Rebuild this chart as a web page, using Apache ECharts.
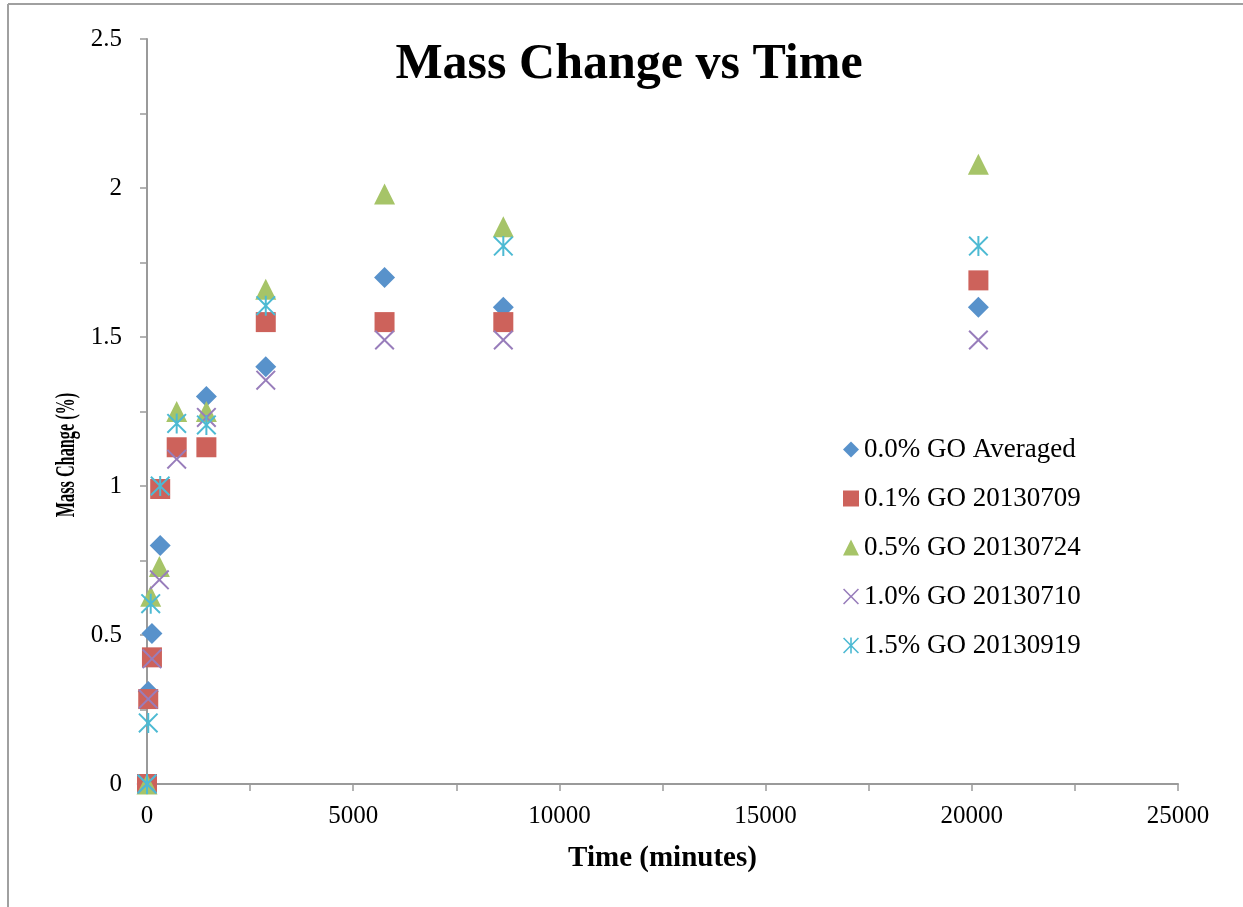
<!DOCTYPE html>
<html>
<head>
<meta charset="utf-8">
<script src="https://cdn.jsdelivr.net/npm/echarts@6/dist/echarts.min.js"></script>
<style>
  html, body { margin: 0; padding: 0; background: #ffffff; }
  #chart { width: 1243px; height: 907px; }
</style>
</head>
<body>
<div id="chart"></div>
<script>
// Series labels
const seriesNames = ['0.0% GO Averaged', '0.1% GO 20130709', '0.5% GO 20130724', '1.0% GO 20130710', '1.5% GO 20130919'];

// Elapsed time (minutes) and mass change (%) for each sample
const timeGO00 = [0, 30, 120, 320, 1440, 2880, 5760, 8640, 20160];
const massGO00 = [0, 0.31, 0.505, 0.80, 1.30, 1.40, 1.70, 1.60, 1.60];

const timeGO01 = [0, 30, 120, 320, 720, 1440, 2880, 5760, 8640, 20160];
const massGO01 = [0, 0.285, 0.425, 0.99, 1.13, 1.13, 1.55, 1.55, 1.55, 1.69];

const timeGO05 = [0, 90, 300, 720, 1440, 2880, 5760, 8640, 20160];
const massGO05 = [0, 0.63, 0.73, 1.25, 1.25, 1.66, 1.98, 1.87, 2.08];

const timeGO10 = [0, 30, 120, 300, 720, 1440, 2880, 5760, 8640, 20160];
const massGO10 = [0, 0.285, 0.42, 0.685, 1.09, 1.23, 1.355, 1.49, 1.49, 1.49];

const timeGO15 = [0, 30, 90, 320, 720, 1440, 2880, 8640, 20160];
const massGO15 = [0, 0.205, 0.605, 1.0, 1.21, 1.205, 1.605, 1.805, 1.805];

// Axis ranges and tick steps
const xRange = [0, 25000];
const xStep = 5000;
const yRange = [0, 2.5];
const yStep = 0.5;

const colors = ['#5892CB', '#CD625B', '#A6C468', '#987DBB', '#4DBAD3'];

// Marker shapes: a thin filled cross, and the cross with a vertical bar (asterisk)
const crossPath = 'M0,1.4L1.4,0L10,8.6L18.6,0L20,1.4L11.4,10L20,18.6L18.6,20L10,11.4L1.4,20L0,18.6L8.6,10Z';
const starPath = crossPath + 'M9,0L11,0L11,20L9,20Z';

function pairs(xs, ys) {
  return xs.map((x, i) => [x, ys[i]]);
}

const seriesData = [
  { data: pairs(timeGO00, massGO00), symbol: 'diamond', size: 21 },
  { data: pairs(timeGO01, massGO01), symbol: 'rect', size: 20 },
  { data: pairs(timeGO05, massGO05), symbol: 'triangle', size: 21 },
  { data: pairs(timeGO10, massGO10), symbol: 'path://' + crossPath, size: 20 },
  { data: pairs(timeGO15, massGO15), symbol: 'path://' + starPath, size: 20 }
];

const axisGrey = '#9a9a9a';
const serif = '"Liberation Serif", "DejaVu Serif", serif';

const chart = echarts.init(document.getElementById('chart'), null, { renderer: 'canvas' });

chart.setOption({
  animation: false,
  backgroundColor: '#ffffff',
  color: colors,
  grid: { left: 147, right: 65, top: 39, bottom: 123 },
  xAxis: {
    type: 'value',
    min: xRange[0],
    max: xRange[1],
    interval: xStep,
    name: 'Time (minutes)',
    nameLocation: 'middle',
    nameGap: 60,
    nameTextStyle: { fontFamily: serif, fontWeight: 'bold', fontSize: 29, color: '#000' },
    axisLine: { show: true, lineStyle: { color: axisGrey, width: 2 } },
    axisTick: { show: true, length: 7, lineStyle: { color: axisGrey, width: 1.5 } },
    minorTick: { show: true, splitNumber: 2, length: 7, lineStyle: { color: axisGrey, width: 1.5 } },
    axisLabel: { margin: 20, fontFamily: serif, fontSize: 25, color: '#000', formatter: v => String(v) },
    splitLine: { show: false }
  },
  yAxis: {
    type: 'value',
    min: yRange[0],
    max: yRange[1],
    interval: yStep,
    axisLine: { show: true, lineStyle: { color: axisGrey, width: 2 } },
    axisTick: { show: true, length: 7, lineStyle: { color: axisGrey, width: 1.5 } },
    minorTick: { show: true, splitNumber: 2, length: 7, lineStyle: { color: axisGrey, width: 1.5 } },
    axisLabel: { margin: 25, fontFamily: serif, fontSize: 25, color: '#000', formatter: v => String(v) },
    splitLine: { show: false }
  },
  legend: {
    orient: 'vertical',
    left: 838,
    top: 431,
    itemWidth: 16,
    itemHeight: 16,
    itemGap: 22,
    data: seriesNames,
    textStyle: { fontFamily: serif, fontSize: 27, color: '#000' }
  },
  series: seriesData.map((s, i) => ({
    name: seriesNames[i],
    type: 'scatter',
    data: s.data,
    symbol: s.symbol,
    symbolSize: s.size,
    itemStyle: { color: colors[i], opacity: 1 },
    emphasis: { disabled: true }
  })),
  graphic: [
    // page frame lines
    { type: 'line', shape: { x1: 8, y1: 4, x2: 1243, y2: 4 }, style: { stroke: '#a0a0a0', lineWidth: 2 } },
    { type: 'line', shape: { x1: 8, y1: 4, x2: 8, y2: 907 }, style: { stroke: '#a0a0a0', lineWidth: 2 } },
    // chart title
    {
      type: 'text', x: 629, y: 65,
      style: { text: 'Mass Change vs Time', font: 'bold 50px ' + serif, fill: '#000', align: 'center', verticalAlign: 'middle' }
    },
    // vertical axis title, condensed along its reading direction
    {
      type: 'text', x: 67, y: 455, rotation: Math.PI / 2, scaleX: 0.58,
      style: { text: 'Mass Change (%)', font: 'bold 28px ' + serif, fill: '#000', align: 'center', verticalAlign: 'middle' }
    }
  ]
});
</script>
</body>
</html>
